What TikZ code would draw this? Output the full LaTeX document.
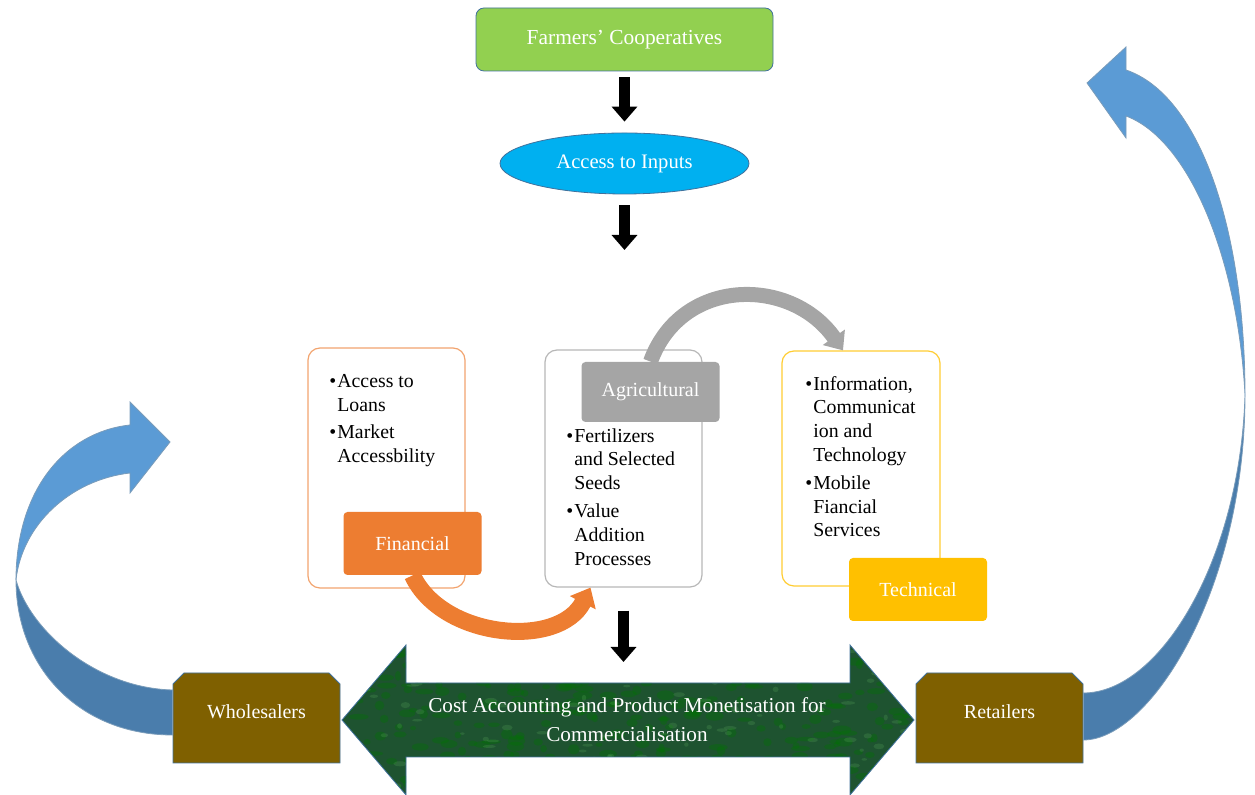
\documentclass[tikz,border=0pt]{standalone}
\usepackage{fontspec}
\setmainfont{Liberation Serif}
\usetikzlibrary{shapes.geometric,shapes.misc,arrows.meta,calc}
\definecolor{coopgreen}{HTML}{92D050}
\definecolor{inputblue}{HTML}{00B0F0}
\definecolor{edgeblue}{HTML}{41719C}
\definecolor{finorange}{HTML}{ED7D31}
\definecolor{agrigrey}{HTML}{A5A5A5}
\definecolor{techgold}{HTML}{FFC000}
\definecolor{traderbrown}{HTML}{7F6000}
\definecolor{looplight}{HTML}{5B9BD5}
\definecolor{loopdark}{HTML}{4A7DAC}
\definecolor{costgreen}{HTML}{1E5330}
\newcommand{\bul}{\makebox[4pt][l]{\textbullet}}
\newcommand{\ind}{\hspace*{4pt}}

\begin{document}
\begin{tikzpicture}
[x=0.5pt,y=-0.5pt,%
  every node/.style={font=\fontsize{10}{12}\selectfont,inner sep=0pt},%
  lbl/.style={rounded corners=2pt,text=white,minimum width=69pt,minimum height=31.5pt},%
  pillar/.style={draw,rounded corners=6pt,line width=0.6pt,fill=white,minimum width=78.5pt},%
  items/.style={anchor=north west,align=left,font=\fontsize{9.9}{11.8}\selectfont},%
  trader/.style={chamfered rectangle,chamfered rectangle corners={north west,north east},%
    chamfered rectangle xsep=2.5pt,chamfered rectangle ysep=3pt,draw=edgeblue,%
    fill=traderbrown,text=white,minimum width=83.5pt,minimum height=45pt,%
    text height=7pt,text depth=6pt},%
  feed/.style={line width=5.5pt,-{Triangle[length=7.5pt,width=12.5pt]}},%
  backflow/.style={draw=edgeblue!70,line width=0.4pt}]
\useasboundingbox (0,0) rectangle (1255,795);

\node[draw=edgeblue,fill=coopgreen,rounded corners=4pt,text=white,minimum width=148.5pt,
  minimum height=31.5pt,font=\fontsize{10.7}{12}\selectfont] (coop) at (624.5,39.5) {Farmers' Cooperatives};
\node[ellipse,draw=edgeblue,fill=inputblue,text=white,minimum width=124.5pt,
  minimum height=30.5pt,font=\fontsize{10.3}{12}\selectfont] (inputs) at (624.5,163.5) {Access to Inputs};

\node[pillar,draw=finorange!70,minimum height=120pt] (finbox) at (386.5,468) {};
\node[pillar,draw=agrigrey!80,minimum height=118.5pt] (agribox) at (623.5,468.5) {};
\node[pillar,draw=techgold!80,minimum width=79pt,minimum height=117.5pt] (techbox) at (861,468.5) {};

\node[items] (finlist) at (329,374) {\bul Access to\\\ind Loans\\[2pt]\bul Market\\\ind Accessbility};
\node[items] (agrilist) at (566,428) {\bul Fertilizers\\\ind and Selected\\\ind Seeds\\[2.5pt]%
  \bul Value\\\ind Addition\\\ind Processes};
\node[items] (techlist) at (805,376) {\bul Information,\\\ind Communicat\\\ind ion and\\\ind Technology\\[2.5pt]%
  \bul Mobile\\\ind Fiancial\\\ind Services};

\node[lbl,fill=finorange] (finlbl) at (412.5,543.5) {Financial};
\node[lbl,fill=agrigrey,minimum height=30pt] (agrilbl) at (650.5,392) {Agricultural};
\node[lbl,fill=techgold] (techlbl) at (918,589.5) {Technical};

\draw[agrigrey,line width=7.5pt,-{Triangle[length=8pt,width=13pt]}]
  (agrilbl.north) to[out=70,in=125,looseness=1.2] ([xshift=-9pt]techbox.north);
\draw[finorange,line width=8.5pt,-{Triangle[length=8.5pt,width=14pt]}]
  (finlbl.south) to[out=-65,in=-117] ([xshift=-16.5pt]agribox.south);

\coordinate (split) at (624.5,250);
\coordinate (costtop) at (628,683);
\draw[feed,shorten <=3pt,shorten >=5.5pt] (coop.south) -- (inputs.north);
\draw[feed,shorten <=5.5pt] (inputs.south) -- (split);
\draw[feed,shorten <=11.5pt,shorten >=10.5pt] (agribox.south) -- (agribox.south |- costtop);

\pgfmathsetseed{11}
\draw[edgeblue,fill=costgreen,path picture={
    \foreach \i in {1,...,320}
      \fill[green!45!black,opacity=0.35] ({342+572*rnd},{645+150*rnd}) ellipse ({3+7*rnd} and {2+3*rnd});
    \foreach \i in {1,...,120}
      \fill[green!30!gray,opacity=0.25] ({342+572*rnd},{645+150*rnd}) ellipse ({2+5*rnd} and {1+2*rnd});
  }]
  (342,720) -- (406,645) -- (406,683) -- (850,683) -- (850,645) -- (914,720)
  -- (850,795) -- (850,757) -- (406,757) -- (406,795) -- cycle;
\node[text=white,align=center,font=\fontsize{10.6}{14.5}\selectfont] (cost) at (627,720)
  {Cost Accounting and Product Monetisation for\\Commercialisation};

\node[trader] (whole) at (256.5,718) {Wholesalers};
\node[trader] (retail) at (999.5,718) {Retailers};

\filldraw[backflow,fill=loopdark] ($(whole.west)+(0,17)$) .. controls (80,735) and (16,668) .. (16,580)
  .. controls (30,630) and (95,688) .. ($(whole.west)+(0,-28)$) -- cycle;
\filldraw[backflow,fill=looplight] (16,580) .. controls (16,490) and (65,432) .. (130,425)
  -- (130,402) -- (170,442) coordinate (lefttip) -- (130,493) -- (130,473)
  .. controls (70,480) and (22,525) .. (16,580) -- cycle;
\filldraw[backflow,fill=loopdark] ($(retail.east)+(0,22)$) .. controls (1150,740) and (1245,590) .. (1245,395)
  .. controls (1240,560) and (1160,693) .. ($(retail.east)+(0,-25)$) -- cycle;
\filldraw[backflow,fill=looplight] (1126,70) .. controls (1200,95) and (1245,230) .. (1245,395)
  .. controls (1238,260) and (1190,140) .. (1126,116) -- (1126,138) -- (1087,83) coordinate (righttip)
  -- (1126,47) -- cycle;
\end{tikzpicture}
\end{document}
